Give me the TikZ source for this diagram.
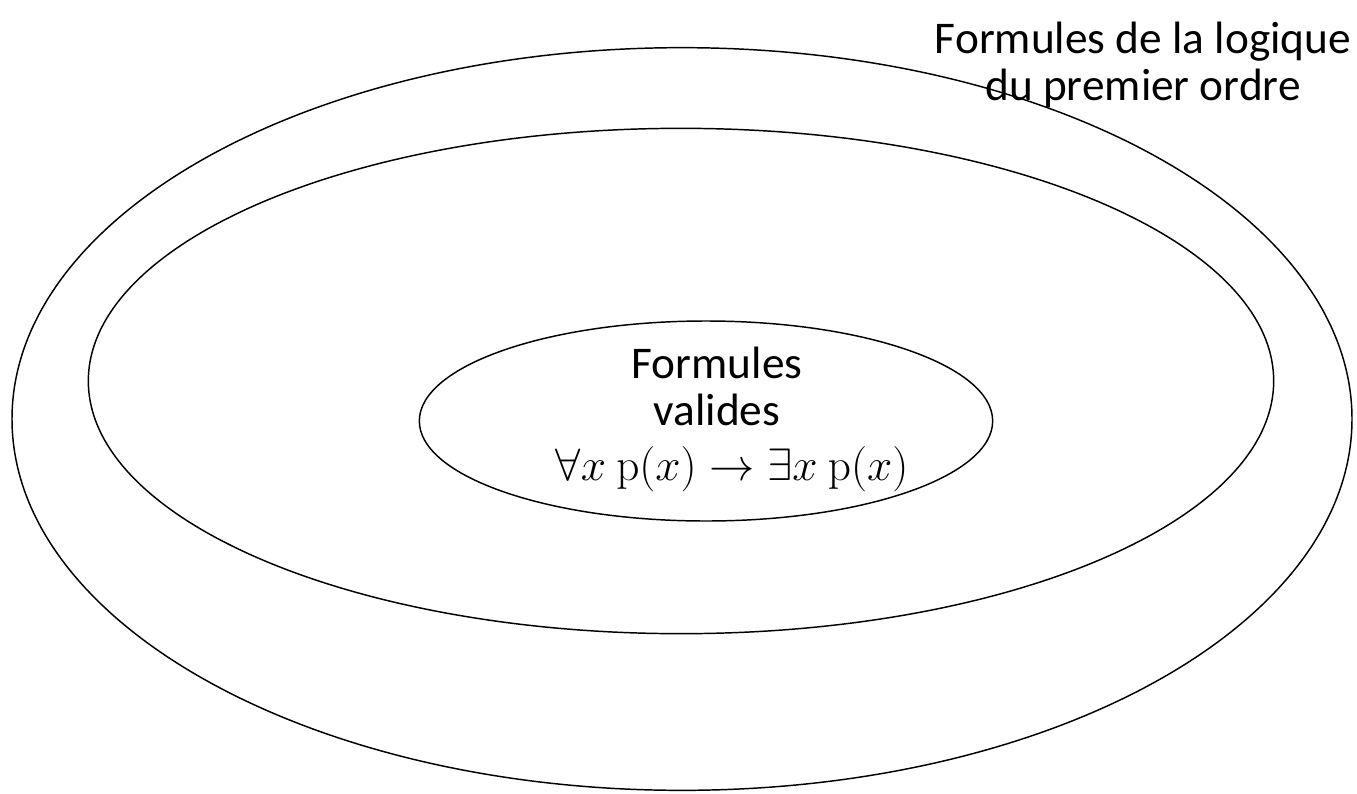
\documentclass[tikz,border=0pt]{standalone}
\usepackage{fix-cm}
\usepackage[no-math]{fontspec}
\setmainfont{Carlito}
\usetikzlibrary{shapes.geometric}

\tikzset{
  ens/.style={draw, ellipse, line width=1.1pt, inner sep=0pt},
  titre/.style={font=\fontsize{34}{35}\selectfont, align=center},
  label/.style={font=\fontsize{34}{35}\selectfont, align=center}
}

\begin{document}
\begin{tikzpicture}[x=0.75pt, y=-0.75pt]
  \useasboundingbox (0,0) rectangle (1357,793);
  % ensembles emboites
  \node[ens, minimum width=1005pt, minimum height=557pt] (fpo) at (682,419) {};
  \node[ens, minimum width=889pt, minimum height=379pt] (sat) at (681,381) {};
  \node[ens, minimum width=430pt, minimum height=150pt] (val) at (706,421) {};
  % textes
  \node[titre, anchor=base] (tfpo) at (1143,100) {Formules de la logique\\du premier ordre};
  \node[label, anchor=base] (tval) at (717,425) {Formules\\valides};
  \node[label, anchor=base] (ex) at (732,480) {$\forall x\ \mathrm{p}(x) \rightarrow \exists x\ \mathrm{p}(x)$};
\end{tikzpicture}
\end{document}
